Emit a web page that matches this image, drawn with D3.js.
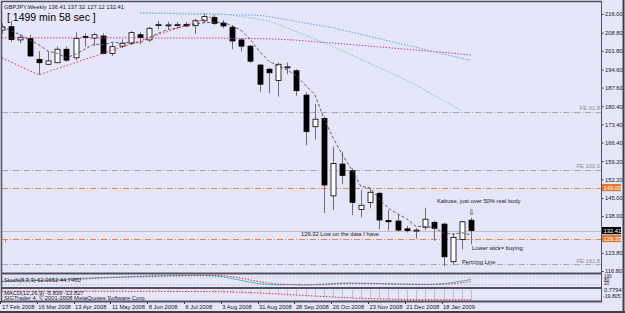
<!DOCTYPE html>
<html>
<head>
<meta charset="utf-8">
<script src="https://cdn.jsdelivr.net/npm/d3@7"></script>
<style>
  body { margin: 0; background: #e6e6fa; overflow: hidden; }
  text { font-family: "Liberation Sans", Arial, sans-serif; }
</style>
</head>
<body>
<svg width="625" height="313"></svg>
<script>
// weekly GBPJPY bars, 17 Feb 2008 .. 8 Feb 2009
const firstWeek = new Date(2008, 1, 17);
const opens  = [209.8,211.1,206.0,206.5,198.5,196.6,197.2,202.4,199.1,207.3,206.7,207.5,200.8,203.6,204.7,208.0,206.0,211.6,211.7,211.8,212.0,211.5,213.4,214.6,212.5,210.9,206.0,203.6,196.3,194.7,190.3,195.3,194.1,184.7,172.5,175.7,145.8,158.1,155.5,140.6,143.3,146.8,136.3,136.1,133.1,132.4,133.7,135.6,134.9,120.4,129.0,136.41];
const highs  = [212.5,213.4,208.0,208.0,201.7,201.5,203.4,203.4,208.9,208.5,208.8,208.5,204.9,206.2,209.4,209.0,211.1,213.3,213.0,212.9,212.9,214.2,216.3,215.5,213.7,211.4,206.6,204.0,196.7,195.3,197.2,197.2,194.7,185.8,181.3,176.4,164.8,162.9,156.4,148.1,148.7,147.4,140.4,138.8,134.3,133.3,141.2,136.2,135.5,131.4,136.2,137.32];
const lows   = [208.4,205.3,204.7,199.5,192.5,196.3,197.0,197.6,198.2,203.4,203.6,200.4,199.8,202.8,204.0,204.3,205.3,210.1,210.2,210.6,210.9,208.3,212.4,211.8,210.5,202.4,201.5,197.2,186.0,185.4,184.1,192.8,184.4,165.4,167.6,139.1,140.4,150.3,138.4,137.5,141.0,132.9,132.4,132.0,131.7,129.3,132.6,128.5,118.6,119.1,125.2,127.12];
const closes = [211.0,206.2,207.0,199.8,197.2,197.9,202.4,198.2,206.6,206.9,208.0,200.8,203.4,204.7,208.8,206.9,210.5,211.9,211.8,211.9,211.4,213.4,215.0,212.4,211.4,205.6,203.6,197.8,188.9,193.3,196.6,195.6,186.4,170.6,175.4,150.0,158.3,153.7,143.3,142.2,147.2,136.5,135.8,132.6,132.4,132.6,136.8,133.3,122.3,129.8,135.8,132.41];

// short moving average (dark dashed)
const maShort = [211.0,209.5,208.0,206.0,204.2,201.6,200.9,199.1,200.5,202.4,204.4,204.1,205.1,204.8,205.1,204.9,206.9,208.6,210.0,210.6,211.5,212.1,212.7,212.8,212.7,211.6,209.6,206.2,201.5,197.8,196.0,194.4,192.2,188.5,184.9,175.6,168.1,161.6,156.1,149.5,148.9,144.6,141.0,138.9,136.9,134.0,134.0,133.5,131.5,131.0,131.6,130.7];
// long moving averages (dotted)
const maMagenta = [206.8,206.8,206.8,206.8,206.8,206.8,206.8,206.8,206.8,206.8,206.8,206.8,206.8,206.8,206.8,206.8,206.8,206.7,206.7,206.7,206.7,206.7,206.7,206.7,206.7,206.6,206.6,206.5,206.5,206.4,206.3,206.1,205.9,205.6,205.3,205.0,204.8,204.5,204.2,203.9,203.6,203.3,203.0,202.7,202.4,202.1,201.8,201.5,201.2,200.9,200.5,200.2];
const maBlueStart = 15;
const maBlue = [216.4,216.3,216.2,216.2,216.1,216.0,216.0,215.9,215.9,215.8,215.7,215.6,215.6,215.5,215.0,214.4,213.8,213.1,212.5,211.9,211.3,210.7,209.8,209.0,208.2,207.3,206.5,205.6,204.8,204.0,203.2,202.3,201.4,200.6,199.7,198.9,198.1];
const maTealStart = 15;
const maTeal = [216.5,216.5,216.4,216.4,216.3,216.3,216.2,216.2,216.1,215.9,215.5,215.0,214.5,214.0,213.3,212.0,210.6,209.2,207.8,206.3,204.9,203.4,201.8,200.2,198.5,196.9,195.3,193.6,192.0,190.4,188.6,186.6,184.6,182.6,180.6,178.6];

// zigzag swing points
const zzIndex = [0, 4, 23];
const zzPrice = [199.1, 192.5, 215.2];

// horizontal levels
const feLevels = [178.3, 155.8, 119.5];
const feLabels = ["FE 61.8", "FE 100.0", "FE 161.8"];
const orangeLevels = [149.00, 129.33];
const bidPrice = 132.41;

// stochastic (8,3,3)
const stochMain = [50,52,55,58,55,55,58,62,70,72,75,78,80,82,85,88,90,92,93,94,94,95,95,92,85,70,55,40,28,22,20,22,20,18,22,25,30,32,33,30,30,28,26,25,24,23,22,24,28,38,50,62];
const stochSignal = [45,48,50,53,55,56,56,58,62,66,70,74,77,80,82,85,87,89,91,92,93,94,95,94,92,85,72,58,45,33,26,22,21,20,20,21,24,28,31,32,31,30,28,26,25,24,23,23,24,28,36,45];
const stochLevels = [80, 20];

// MACD (12,26,9)
const macdMain = [-0.6,-0.8,-1.0,-1.2,-1.4,-1.6,-1.8,-2.0,-2.2,-2.6,-3.0,-3.2,-3.4,-3.6,-3.8,-4.0,-4.2,-4.4,-4.6,-4.8,-5.0,-5.0,-5.0,-5.2,-5.6,-6.2,-7.0,-7.8,-8.6,-9.4,-10.2,-11.0,-11.8,-12.8,-13.6,-14.4,-15.0,-15.6,-16.0,-16.4,-16.8,-17.0,-17.2,-17.4,-17.5,-17.6,-17.6,-17.5,-17.4,-17.2,-17.0,-16.8];
const macdSignal = [-3.0,-3.0,-3.0,-3.0,-3.0,-3.1,-3.1,-3.1,-3.1,-3.1,-3.2,-3.2,-3.2,-3.2,-3.3,-3.3,-3.3,-3.4,-3.4,-3.4,-3.5,-3.5,-3.6,-3.7,-3.9,-4.3,-4.8,-5.4,-6.1,-6.9,-7.7,-8.6,-9.5,-10.4,-11.3,-12.2,-13.0,-13.8,-14.5,-15.1,-15.6,-16.1,-16.5,-16.8,-17.1,-17.3,-17.5,-17.6,-17.7,-17.7,-17.7,-17.7];

// axis labels
const priceTicks = [216.00,208.80,201.80,194.60,187.60,180.40,173.40,166.40,159.20,152.20,145.00,138.00,123.80,116.80];
const dateTicks = ["17 Feb 2008","16 Mar 2008","13 Apr 2008","11 May 2008","8 Jun 2008","6 Jul 2008","3 Aug 2008","31 Aug 2008","28 Sep 2008","26 Oct 2008","23 Nov 2008","21 Dec 2008","18 Jan 2009"];

const svg = d3.select("svg");
const parseDate = d3.timeParse("%d %b %Y");
const week = i => d3.timeWeek.offset(firstWeek, i);

const x = d3.scaleTime().domain([week(0), week(51)]).range([2, 471.2]);
const y = d3.scaleLinear().domain([116.04, 220.25]).range([273, 3]);
const yStoch = d3.scaleLinear().domain([0, 100]).range([287.2, 274.8]);
const yMacd = d3.scaleLinear().domain([-19.8056, 0.7794]).range([301, 289]);

svg.append("rect").attr("width", 625).attr("height", 313).attr("fill", "#e6e6fa");

const main = svg.append("g");
main.append("clipPath").attr("id", "clipMain")
  .append("rect").attr("x", 2).attr("y", 2.5).attr("width", 599).attr("height", 270);
const plot = main.append("g").attr("clip-path", "url(#clipMain)");

// horizontal levels
plot.selectAll(".fe").data(feLevels).enter().append("line")
  .attr("x1", 2).attr("x2", 601)
  .attr("y1", d => Math.round(y(d)) + 0.5).attr("y2", d => Math.round(y(d)) + 0.5)
  .attr("stroke", "#a8a8b4").attr("stroke-dasharray", "6,2,1,2");
plot.selectAll(".orange").data(orangeLevels).enter().append("line")
  .attr("x1", 2).attr("x2", 601)
  .attr("y1", d => Math.round(y(d)) + 0.5).attr("y2", d => Math.round(y(d)) + 0.5)
  .attr("stroke", "#e8864a").attr("stroke-dasharray", "6,2,1,2");
plot.append("line")
  .attr("x1", 2).attr("x2", 601)
  .attr("y1", Math.round(y(bidPrice)) + 0.5).attr("y2", Math.round(y(bidPrice)) + 0.5)
  .attr("stroke", "#c4c0c8");

// candles
const bars = d3.range(opens.length);
plot.selectAll(".wick").data(bars).enter().append("line")
  .attr("x1", i => Math.round(x(week(i))) + 0.5).attr("x2", i => Math.round(x(week(i))) + 0.5)
  .attr("y1", i => y(highs[i])).attr("y2", i => y(lows[i]))
  .attr("stroke", "#707070");
plot.selectAll(".body").data(bars).enter().append("rect")
  .attr("x", i => Math.round(x(week(i))) - 2)
  .attr("y", i => y(Math.max(opens[i], closes[i])))
  .attr("width", 5)
  .attr("height", i => Math.max(1, Math.abs(y(opens[i]) - y(closes[i]))))
  .attr("fill", i => closes[i] >= opens[i] ? "#ffffff" : "#000000")
  .attr("stroke", "#000").attr("stroke-width", 0.8);

// moving averages
const lineAt = (start) => d3.line().x((d, k) => x(week(start + k))).y(d => y(d));
plot.append("path").datum(maMagenta).attr("d", lineAt(0))
  .attr("fill", "none").attr("stroke", "#c0409c").attr("stroke-width", 1).attr("stroke-dasharray", "1.5,1.5");
plot.append("path").datum(maBlue).attr("d", lineAt(maBlueStart))
  .attr("fill", "none").attr("stroke", "#6aa6e6").attr("stroke-width", 1).attr("stroke-dasharray", "1.5,1.5");
plot.append("path").datum(maTeal).attr("d", lineAt(maTealStart))
  .attr("fill", "none").attr("stroke", "#80c8b4").attr("stroke-width", 1).attr("stroke-dasharray", "1.5,1.5");
plot.append("path").datum(maShort).attr("d", lineAt(0))
  .attr("fill", "none").attr("stroke", "#505050").attr("stroke-width", 0.9).attr("stroke-dasharray", "3,2");

// zigzag
plot.append("path").datum(zzIndex)
  .attr("d", d3.line().x(i => x(week(i))).y((i, k) => y(zzPrice[k])))
  .attr("fill", "none").attr("stroke", "#ee3030").attr("stroke-width", 1).attr("stroke-dasharray", "1.5,2");

// annotations
const small = 5.8;
plot.selectAll(".felab").data(feLevels).enter().append("text")
  .attr("x", 600).attr("y", d => y(d) - 1.5).attr("text-anchor", "end")
  .attr("font-size", small).attr("fill", "#8c8c98").text((d, k) => feLabels[k]);
main.append("text").attr("x", 4).attr("y", 8.5).attr("font-size", small).attr("fill", "#202020")
  .text("GBPJPY,Weekly  136.41 137.32 127.12 132.41");
main.append("text").attr("x", 7).attr("y", 21).attr("font-size", 10.5).attr("fill", "#000")
  .text("[ 1499 min 58 sec ]");
main.append("text").attr("x", 301).attr("y", 236).attr("font-size", small).attr("fill", "#202020")
  .text("129.32 Low on the data I have");
main.append("text").attr("x", 437).attr("y", 203).attr("font-size", small).attr("fill", "#202020")
  .text("Kabuse, just over 50% real body");
main.append("text").attr("x", x(week(51))).attr("y", 214.5).attr("text-anchor", "middle")
  .attr("font-family", "DejaVu Sans").attr("font-size", 8).attr("fill", "#303030").text("⇩");
main.append("text").attr("x", 472).attr("y", 249.5).attr("font-size", small).attr("fill", "#202020")
  .text("Lower wick= buying");
main.append("text").attr("x", 462).attr("y", 264).attr("font-size", small).attr("fill", "#202020")
  .text("Peircing Line");
main.append("path").attr("d", "M2.5,239.5h3v3").attr("fill", "none").attr("stroke", "#e8864a");

// price axis
const yAxis = d3.axisRight(y).tickValues(priceTicks).tickFormat(d3.format(".2f")).tickSize(2).tickPadding(1.5);
const ya = svg.append("g").attr("transform", "translate(601.5,0)").call(yAxis);
ya.select(".domain").remove();
ya.selectAll("line").attr("stroke", "#303030");
ya.selectAll("text").attr("font-size", small).attr("fill", "#202020").attr("font-family", "Liberation Sans, Arial");

const boxes = [
  { p: orangeLevels[0], fill: "#e07a30", color: "#ffffff" },
  { p: bidPrice, fill: "#000000", color: "#ffffff" },
  { p: orangeLevels[1], fill: "#e07a30", color: "#ffffff" }
];
svg.selectAll(".box").data(boxes).enter().append("rect")
  .attr("x", 602).attr("y", d => y(d.p) - 3.6).attr("width", 19).attr("height", 7.2).attr("fill", d => d.fill);
svg.selectAll(".boxlab").data(boxes).enter().append("text")
  .attr("x", 603.5).attr("y", d => y(d.p) + 2).attr("font-size", small).attr("fill", d => d.color)
  .text(d => d3.format(".2f")(d.p));

// stochastic panel
svg.selectAll(".slev").data(stochLevels).enter().append("line")
  .attr("x1", 2).attr("x2", 601).attr("y1", d => yStoch(d)).attr("y2", d => yStoch(d))
  .attr("stroke", "#b8b0c0").attr("stroke-dasharray", "1,2");
svg.append("path").datum(stochMain).attr("d", d3.line().x((d, i) => x(week(i))).y(d => yStoch(d)))
  .attr("fill", "none").attr("stroke", "#40c0c8").attr("stroke-width", 1);
svg.append("path").datum(stochSignal).attr("d", d3.line().x((d, i) => x(week(i))).y(d => yStoch(d)))
  .attr("fill", "none").attr("stroke", "#f03030").attr("stroke-width", 1).attr("stroke-dasharray", "1.5,1.5");
svg.append("text").attr("x", 4).attr("y", 282).attr("font-size", small).attr("fill", "#202020")
  .text("Stoch(8,3,3) 62.0652 44.7460");
[["100", 278], ["80", 281.5], ["20", 285]].forEach(([t, yy]) =>
  svg.append("text").attr("x", 604).attr("y", yy).attr("font-size", 4.5).attr("fill", "#202020").text(t));

// MACD panel
svg.selectAll(".hist").data(macdMain).enter().append("line")
  .attr("x1", (d, i) => Math.round(x(week(i))) + 0.5).attr("x2", (d, i) => Math.round(x(week(i))) + 0.5)
  .attr("y1", yMacd(0)).attr("y2", d => yMacd(d))
  .attr("stroke", "#c0c0c8").attr("stroke-width", 1);
svg.append("path").datum(macdSignal).attr("d", d3.line().x((d, i) => x(week(i))).y(d => yMacd(d)))
  .attr("fill", "none").attr("stroke", "#f03030").attr("stroke-width", 1).attr("stroke-dasharray", "1.5,1.5");
svg.append("text").attr("x", 4).attr("y", 294.5).attr("font-size", small).attr("fill", "#202020")
  .text("MACD(12,26,9) -5.839 -13.827");
svg.append("text").attr("x", 4).attr("y", 299.5).attr("font-size", small).attr("fill", "#202020")
  .text("SIGTrader 4, © 2001-2008 MetaQuotes Software Corp.");
svg.append("text").attr("x", 604).attr("y", 292).attr("font-size", small).attr("fill", "#202020").text("0.7794");
svg.append("text").attr("x", 603).attr("y", 297.5).attr("font-size", 5.2).attr("fill", "#202020").text("-19.805");

// date axis
const dates = dateTicks.map(parseDate);
svg.selectAll(".dtick").data(dates).enter().append("line")
  .attr("x1", d => Math.round(x(d)) - 1.5).attr("x2", d => Math.round(x(d)) - 1.5)
  .attr("y1", 301).attr("y2", 304).attr("stroke", "#303030");
svg.selectAll(".dlab").data(dates).enter().append("text")
  .attr("x", d => Math.max(2, x(d) - 0.5)).attr("y", 308.5).attr("font-size", small).attr("fill", "#202020")
  .text((d, k) => dateTicks[k]);

// frames
const frame = "#52525e";
svg.append("line").attr("x1", 1).attr("x2", 602).attr("y1", 1.5).attr("y2", 1.5).attr("stroke", frame).attr("stroke-width", 1.5);
svg.append("line").attr("x1", 1.5).attr("x2", 1.5).attr("y1", 1).attr("y2", 302).attr("stroke", frame).attr("stroke-width", 1.5);
svg.append("line").attr("x1", 601.5).attr("x2", 601.5).attr("y1", 1).attr("y2", 302).attr("stroke", frame).attr("stroke-width", 1);
[273.5, 288, 301.5].forEach(yy =>
  svg.append("line").attr("x1", 1).attr("x2", 602).attr("y1", yy).attr("y2", yy).attr("stroke", frame).attr("stroke-width", 2));
svg.append("line").attr("x1", 623.5).attr("x2", 623.5).attr("y1", 0).attr("y2", 313).attr("stroke", "#404048").attr("stroke-width", 2);
svg.append("line").attr("x1", 0).attr("x2", 625).attr("y1", 312).attr("y2", 312).attr("stroke", "#404048").attr("stroke-width", 2);
</script>
</body>
</html>
